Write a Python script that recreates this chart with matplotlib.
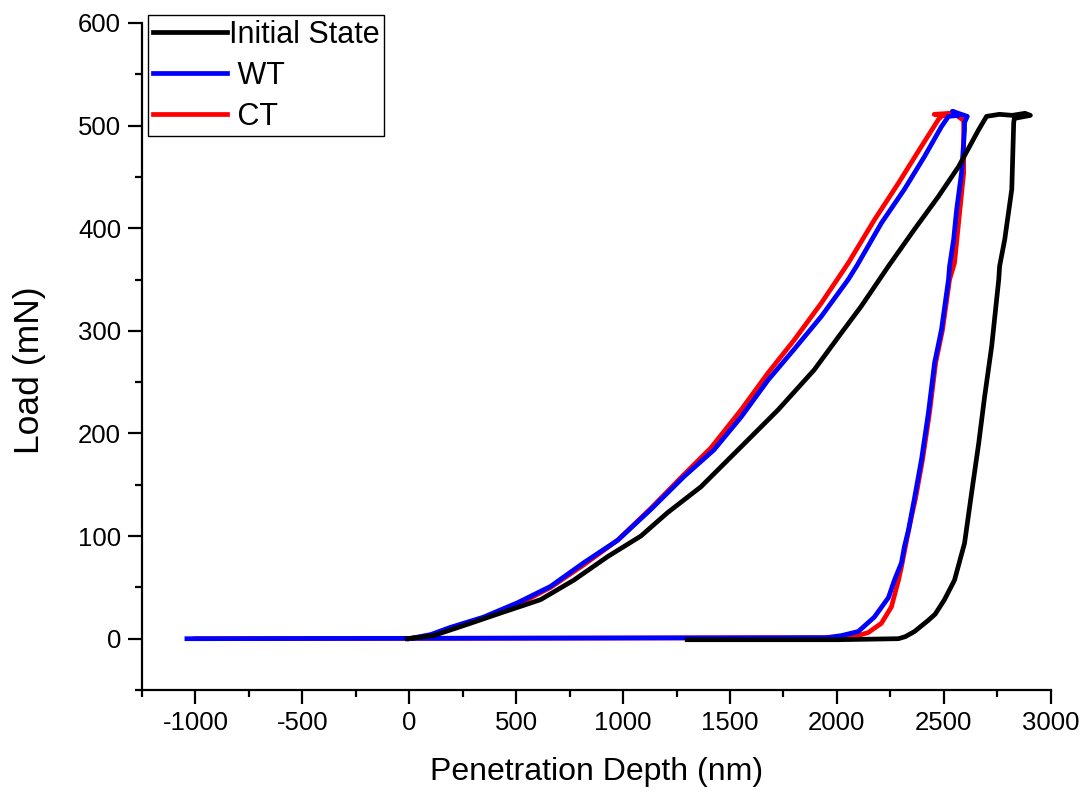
import matplotlib
matplotlib.use('Agg')
import matplotlib.pyplot as plt
from matplotlib.ticker import MultipleLocator

plt.rcParams['font.family'] = ['Liberation Sans', 'DejaVu Sans']
plt.rcParams['axes.unicode_minus'] = False

# Initial State: loading, hold, unloading, back along zero
init_depth = [-10, 113, 272, 427, 614, 769, 928, 1083, 1209, 1364, 1552, 1725,
              1894, 2021, 2114, 2241, 2363, 2475, 2569, 2663, 2700,
              2760, 2820, 2880, 2905, 2830,
              2827, 2818, 2785, 2761, 2757, 2724, 2691, 2663, 2630, 2597, 2550,
              2503, 2460, 2428, 2363, 2320, 2288, 2000, 1300]
init_load = [0, 3, 14, 25, 38, 57, 80, 100, 123, 148, 187, 223,
             262, 298, 324, 363, 399, 431, 460, 496, 509,
             511, 510, 512, 510, 507,
             503, 438, 389, 363, 350, 285, 236, 190, 142, 93, 57,
             38, 24, 18, 7, 2, 0, -1, -1]

# WT
wt_depth = [0, 100, 192, 347, 506, 661, 816, 975, 1130, 1285, 1425, 1552,
            1678, 1800, 1927, 2053, 2095, 2208, 2316, 2410, 2489, 2522,
            2570, 2540, 2610, 2597,
            2597, 2583, 2560, 2546, 2527, 2522, 2489, 2457, 2428, 2396, 2363,
            2335, 2316, 2302, 2269, 2241, 2175, 2100, 2021, 1950, -1040]
wt_load = [0, 4, 11, 21, 35, 51, 74, 96, 126, 158, 184, 216,
           252, 282, 314, 350, 364, 405, 438, 470, 499, 509,
           510, 514, 509, 503,
           496, 454, 418, 389, 363, 350, 301, 269, 220, 175, 137,
           106, 90, 74, 57, 40, 21, 7, 3, 1, 0]

# CT
ct_depth = [0, 100, 192, 347, 506, 661, 816, 975, 1130, 1285, 1411, 1552,
            1678, 1800, 1927, 2053, 2175, 2288, 2396, 2475, 2489,
            2530, 2455, 2560, 2593,
            2593, 2593, 2569, 2550, 2527, 2494, 2462, 2433, 2401, 2368, 2349,
            2330, 2302, 2288, 2255, 2208, 2147, 2082, 2000, -1000]
ct_load = [0, 3, 10, 20, 33, 50, 72, 96, 127, 160, 186, 223,
           259, 291, 327, 366, 408, 444, 480, 506, 509,
           512, 511, 510, 505,
           499, 454, 405, 366, 350, 301, 269, 220, 175, 137, 119,
           100, 70, 57, 31, 15, 6, 2, 1, 0]

fig = plt.figure(figsize=(10.88, 7.94), dpi=100)
ax = fig.add_axes([142 / 1088, 1 - 690 / 794, 908.7 / 1088, 667 / 794])

lw = 3.4
ax.plot(ct_depth, ct_load, color='#ff0000', lw=lw, label=' CT', zorder=2)
ax.plot(wt_depth, wt_load, color='#0000ff', lw=lw, label=' WT', zorder=3)
ax.plot(init_depth, init_load, color='black', lw=lw, label='Initial State', zorder=4)

ax.set_xlim(-1250, 3000)
ax.set_ylim(-50, 600)
ax.xaxis.set_major_locator(MultipleLocator(500))
ax.xaxis.set_minor_locator(MultipleLocator(250))
ax.yaxis.set_major_locator(MultipleLocator(100))
ax.yaxis.set_minor_locator(MultipleLocator(50))

for s in ['top', 'right']:
    ax.spines[s].set_visible(False)
for s in ['left', 'bottom']:
    ax.spines[s].set_linewidth(1.6)

ax.tick_params(which='major', direction='out', length=10, width=1.6,
               labelsize=18.5, pad=5)
ax.tick_params(which='minor', direction='out', length=5, width=1.6)

ax.set_xlabel('Penetration Depth (nm)', fontsize=23)
ax.set_ylabel('Load (mN)', fontsize=25.5)
ax.xaxis.set_label_coords(0.5, -0.1)
ax.yaxis.set_label_coords(-0.106, 0.48)

h, l = ax.get_legend_handles_labels()
leg = ax.legend(h[::-1], l[::-1], loc='upper left',
                bbox_to_anchor=(148 / 1088, 1 - 15 / 794),
                bbox_transform=fig.transFigure, borderaxespad=0,
                fontsize=22, handlelength=2.45, handletextpad=0.05,
                labelspacing=0.36, borderpad=0.15, fancybox=False,
                framealpha=1, edgecolor='black')
leg.get_frame().set_linewidth(1.0)

fig.savefig('out.png', dpi=100)
